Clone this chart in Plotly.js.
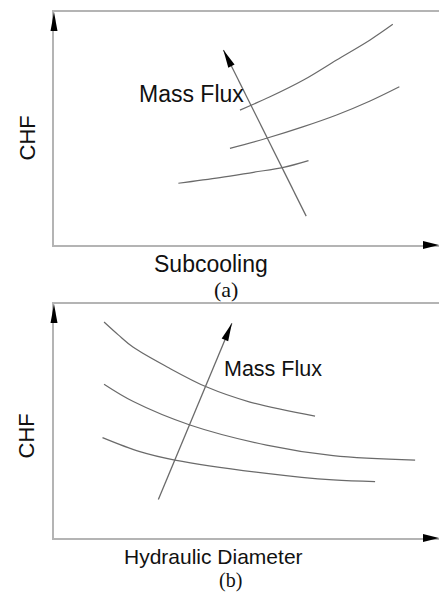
<!DOCTYPE html>
<html><head><meta charset="utf-8">
<script src="https://cdn.plot.ly/plotly-3.0.1.min.js"></script>
<style>html,body{margin:0;padding:0;background:#fff}#chart{width:439px;height:592px}</style>
</head><body><div id="chart"></div>
<script>
// ---------- Panel (a): CHF vs Subcooling (schematic, arbitrary units 0-100) ----------
const curveA1_x = [48.3, 56.1, 64.8, 73.4, 82.1, 88.0];
const curveA1_y = [57.9, 63.6, 70.8, 79.4, 88.0, 94.7];
const curveA2_x = [45.7, 55.2, 64.8, 73.4, 82.1, 89.7];
const curveA2_y = [41.5, 45.8, 50.8, 55.8, 61.8, 67.9];
const curveA3_x = [32.3, 43.1, 51.8, 59.6, 66.1];
const curveA3_y = [26.5, 28.9, 31.2, 33.3, 36.2];
const arrowA_x = [65.5, 44.0];   // tail, tip
const arrowA_y = [12.4, 83.7];
const labelA = {x: 35.7, y: 64.7, text: 'Mass Flux'};

// ---------- Panel (b): CHF vs Hydraulic Diameter ----------
const curveB1_x = [13.0, 16.7, 20.5, 29.4, 39.7, 50.9, 67.8];
const curveB1_y = [92.3, 86.8, 81.6, 73.1, 64.5, 58.1, 52.1];
const curveB2_x = [13.0, 20.6, 35.3, 55.2, 72.5, 93.8];
const curveB2_y = [65.7, 58.3, 48.3, 39.7, 35.2, 33.3];
const curveB3_x = [12.6, 22.3, 31.4, 55.2, 72.5, 83.4];
const curveB3_y = [42.9, 36.9, 33.3, 27.6, 24.8, 24.1];
const arrowB_x = [27.1, 46.2];
const arrowB_y = [16.5, 91.8];
const labelB = {x: 57.0, y: 72.3, text: 'Mass Flux'};

const xTitleA = 'Subcooling', xTitleB = 'Hydraulic Diameter', yTitle = 'CHF';
const captionA = '(a)', captionB = '(b)';

// ---------- layout geometry ----------
const W = 439, H = 592;
const xDom = [54 / W, 1];
const yDomA = [1 - 245 / H, 1 - 12 / H];
const yDomB = [1 - 538 / H, 1 - 304 / H];
const RANGE = [0, 100];
const pxX = (xDom[1] - xDom[0]) * W / 100;
const pxYA = (yDomA[1] - yDomA[0]) * H / 100;
const pxYB = (yDomB[1] - yDomB[0]) * H / 100;

const curveColor = '#6a6a6a';
const axisColor = '#b4b4b4';
const sans = 'Arial, "Liberation Sans", sans-serif';
const serif = '"Times New Roman", "Liberation Serif", serif';

function line(x, y, xa, ya, w) {
  return {x, y, xaxis: xa, yaxis: ya, type: 'scatter', mode: 'lines',
    line: {color: curveColor, width: w || 1.2, shape: 'spline', smoothing: 1},
    hoverinfo: 'skip', showlegend: false};
}
const traces = [
  line(curveA1_x, curveA1_y, 'x', 'y'),
  line(curveA2_x, curveA2_y, 'x', 'y'),
  line(curveA3_x, curveA3_y, 'x', 'y'),
  line(arrowA_x, arrowA_y, 'x', 'y', 1.3),
  line(curveB1_x, curveB1_y, 'x2', 'y2'),
  line(curveB2_x, curveB2_y, 'x2', 'y2'),
  line(curveB3_x, curveB3_y, 'x2', 'y2'),
  line(arrowB_x, arrowB_y, 'x2', 'y2', 1.3)
];

// arrowhead path in pixels, tip at anchor, pointing along (dx,dy) (y up)
function headPath(dx, dy, L, Wd) {
  const n = Math.hypot(dx, dy), ux = dx / n, uy = dy / n;
  const bx = -ux * L, by = -uy * L, px = -uy * Wd / 2, py = ux * Wd / 2;
  return `M0,0 L${(bx + px).toFixed(2)},${(by + py).toFixed(2)} L${(bx - px).toFixed(2)},${(by - py).toFixed(2)} Z`;
}
function head(xref, yref, xa, ya, dx, dy, L, Wd) {
  return {type: 'path', xref, yref, xsizemode: 'pixel', ysizemode: 'pixel',
    xanchor: xa, yanchor: ya, path: headPath(dx, dy, L, Wd),
    fillcolor: '#000', line: {width: 0}, layer: 'above'};
}
const shapes = [
  // axis arrowheads
  head('paper', 'paper', xDom[0], yDomA[1], 0, 1, 19, 7),
  head('paper', 'paper', 1, yDomA[0], 1, 0, 16, 8),
  head('paper', 'paper', xDom[0], yDomB[1], 0, 1, 19, 7),
  head('paper', 'paper', 1, yDomB[0], 1, 0, 16, 8),
  // Mass-flux arrowheads
  head('x', 'y', arrowA_x[1], arrowA_y[1], (arrowA_x[1] - arrowA_x[0]) * pxX, (arrowA_y[1] - arrowA_y[0]) * pxYA, 18, 7),
  head('x2', 'y2', arrowB_x[1], arrowB_y[1], (arrowB_x[1] - arrowB_x[0]) * pxX, (arrowB_y[1] - arrowB_y[0]) * pxYB, 18, 7)
];

function txt(text, x, y, xref, yref, size, family, angle) {
  return {text, x, y, xref, yref, showarrow: false, xanchor: 'center', yanchor: 'middle',
    borderpad: 0, textangle: angle || 0, font: {family, size, color: '#111'}};
}
const annotations = [
  txt(labelA.text, labelA.x, labelA.y, 'x', 'y', 23, sans),
  txt(labelB.text, labelB.x, labelB.y, 'x2', 'y2', 21.5, sans),
  txt(yTitle, 26.5 / W, 1 - 138 / H, 'paper', 'paper', 22, sans, -90),
  txt(yTitle, 25.5 / W, 1 - 436 / H, 'paper', 'paper', 22, sans, -90),
  txt(xTitleA, 211 / W, 1 - 264 / H, 'paper', 'paper', 23, sans),
  txt(captionA, 226 / W, 1 - 289 / H, 'paper', 'paper', 22, serif),
  txt(xTitleB, 213 / W, 1 - 556 / H, 'paper', 'paper', 21, sans),
  txt(captionB, 230.5 / W, 1 - 580.5 / H, 'paper', 'paper', 20, serif)
];

function xax(anchor) {
  return {domain: xDom, range: RANGE, anchor, showline: true, mirror: true, linecolor: axisColor,
    linewidth: 2, showgrid: false, zeroline: false, showticklabels: false, ticks: '', fixedrange: true};
}
function yax(dom, anchor) {
  return {domain: dom, range: RANGE, anchor, showline: true, mirror: false, linecolor: axisColor,
    linewidth: 2, showgrid: false, zeroline: false, showticklabels: false, ticks: '', fixedrange: true};
}
const layout = {
  width: W, height: H, margin: {l: 0, r: 0, t: 0, b: 0},
  paper_bgcolor: '#fff', plot_bgcolor: '#fff', showlegend: false,
  xaxis: xax('y'), yaxis: yax(yDomA, 'x'),
  xaxis2: xax('y2'), yaxis2: yax(yDomB, 'x2'),
  shapes, annotations
};
Plotly.newPlot('chart', traces, layout, {displayModeBar: false, staticPlot: true});
</script>
</body></html>
